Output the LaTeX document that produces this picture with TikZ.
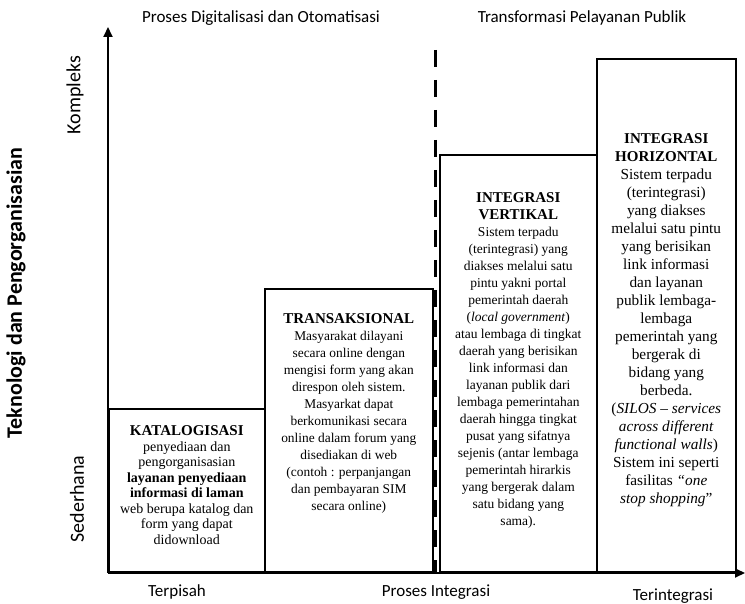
\documentclass[tikz,border=0pt]{standalone}
\usepackage{fontspec}
\setmainfont{Liberation Serif}
\setsansfont{Carlito}
\usetikzlibrary{arrows.meta, positioning}
\newcommand{\judul}[1]{{\bfseries\fontsize{15}{15}\selectfont #1}}

\begin{document}
\begin{tikzpicture}[x=1pt, y=-1pt,
			stage/.style={draw, rectangle, line width=1.6pt, anchor=south west, inner sep=0pt},
			desc/.style={align=center, anchor=north, inner sep=0pt},
			lbl/.style={font=\sffamily\fontsize{17}{19}\selectfont, inner sep=0pt},
			axis/.style={line width=2pt, -{Triangle[length=10pt, width=9pt]}}
		]
		\useasboundingbox (0,0) rectangle (745,604);
		% sumbu
		\coordinate (origin) at (108,573);
		\coordinate (ytop) at (108,27);
		\coordinate (xend) at (745,573);
		\draw[axis] (origin) -- (ytop);
		\draw[axis] (origin) -- (xend);
		% tahapan
		\node (katalog) [stage, minimum width=156, minimum height=163] at (108,573) {};
		\node (transaksi) [stage, minimum width=168, minimum height=283] at (264,573) {};
		\node (vertikal) [stage, minimum width=157, minimum height=417] at (439,573) {};
		\node (horizontal) [stage, minimum width=139, minimum height=513] at (596,573) {};
		\coordinate (dtop) at (435,50);
		\coordinate (dbot) at (435,573);
		\draw[line width=3pt, dash pattern=on 17pt off 13pt] (dtop) -- (dbot);
		\node (katalogTxt) [desc, below=17pt of katalog.north, font=\fontsize{14}{15.5}\selectfont]
		{
			\judul{KATALOGISASI}\\
			penyediaan dan\\
			pengorganisasian\\
			\textbf{layanan penyediaan}\\
			\textbf{informasi di laman}\\
			web berupa katalog dan\\
			form yang dapat\\
			didownload};
		\node (transaksiTxt) [desc, below=25pt of transaksi.north, font=\fontsize{13.4}{17}\selectfont]
		{
			\judul{TRANSAKSIONAL}\\
			Masyarakat dilayani\\
			secara online dengan\\
			mengisi form yang akan\\
			direspon oleh sistem.\\
			Masyarkat dapat\\
			berkomunikasi secara\\
			online dalam forum yang\\
			disediakan di web\\
			(contoh : perpanjangan\\
			dan pembayaran SIM\\
			secara online)};
		\node (vertikalTxt) [desc, below=38pt of vertikal.north, font=\fontsize{13.5}{17}\selectfont]
		{
			\judul{INTEGRASI}\\
			\judul{VERTIKAL}\\
			Sistem terpadu\\
			(terintegrasi) yang\\
			diakses melalui satu\\
			pintu yakni portal\\
			pemerintah daerah\\
			(\textit{local government})\\
			atau lembaga di tingkat\\
			daerah yang berisikan\\
			link informasi dan\\
			layanan publik dari\\
			lembaga pemerintahan\\
			daerah hingga tingkat\\
			pusat yang sifatnya\\
			sejenis (antar lembaga\\
			pemerintah hirarkis\\
			yang bergerak dalam\\
			satu bidang yang\\
			sama).};
		\node (horizontalTxt) [desc, below=75pt of horizontal.north, font=\fontsize{15.3}{18}\selectfont]
		{
			\judul{INTEGRASI}\\
			\judul{HORIZONTAL}\\
			Sistem terpadu\\
			(terintegrasi)\\
			yang diakses\\
			melalui satu pintu\\
			yang berisikan\\
			link informasi\\
			dan layanan\\
			publik lembaga-\\
			lembaga\\
			pemerintah yang\\
			bergerak di\\
			bidang yang\\
			berbeda.\\
			(\textit{SILOS -- services}\\
			\textit{across different}\\
			\textit{functional walls})\\
			Sistem ini seperti\\
			fasilitas \textit{``one}\\
			\textit{stop shopping}''};
		% label
		\node (digital) [lbl] at (261,18) {Proses Digitalisasi dan Otomatisasi};
		\node (transform) [lbl] at (582,18) {Transformasi Pelayanan Publik};
		\node (terpisah) [lbl] at (177,592) {Terpisah};
		\node (proses) [lbl] at (436,592) {Proses Integrasi};
		\node (terintegrasi) [lbl] at (673,596) {Terintegrasi};
		\node (kompleks) [lbl, rotate=90, font=\sffamily\fontsize{20}{22}\selectfont] at (75,95) {Kompleks};
		\node (sederhana) [lbl, rotate=90, font=\sffamily\fontsize{20}{22}\selectfont] at (77,499) {Sederhana};
		\node (teknologi) [lbl, rotate=90, font=\sffamily\bfseries\fontsize{22}{24}\selectfont] at (16,293) {Teknologi dan Pengorganisasian};
	\end{tikzpicture}
\end{document}
